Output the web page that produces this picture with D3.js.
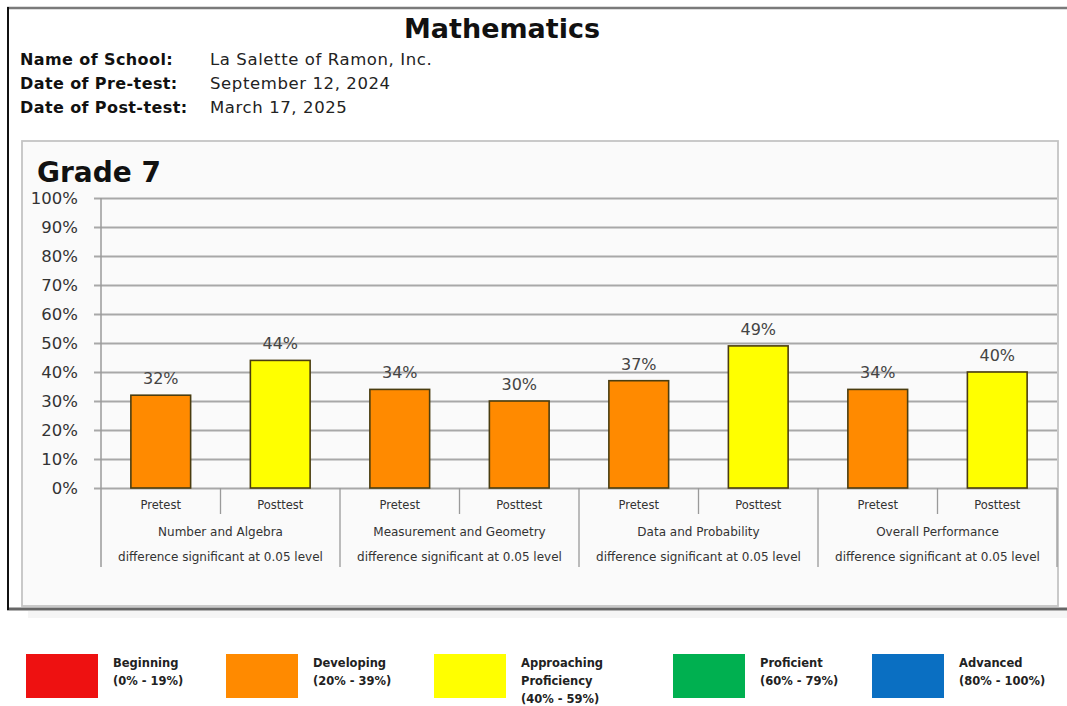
<!DOCTYPE html>
<html>
<head>
<meta charset="utf-8">
<script src="https://cdn.jsdelivr.net/npm/d3@7"></script>
<style>
  html, body { margin: 0; padding: 0; background: #ffffff; }
  svg { display: block; }
</style>
</head>
<body>
<svg id="chart" width="1067" height="706"></svg>
<script>
// ---- data ----
const subject = "Mathematics";
const headerLabels = ["Name of School:", "Date of Pre-test:", "Date of Post-test:"];
const headerValues = ["La Salette of Ramon, Inc.", "September 12, 2024", "March 17, 2025"];
const gradeTitle = "Grade 7";
const categories = ["Number and Algebra", "Measurement and Geometry", "Data and Probability", "Overall Performance"];
const tests = ["Pretest", "Posttest"];
const pretest = [32, 34, 37, 34];
const posttest = [44, 30, 49, 40];
const significance = [
  "difference significant at 0.05 level",
  "difference significant at 0.05 level",
  "difference significant at 0.05 level",
  "difference significant at 0.05 level"
];
const yTicks = [0, 10, 20, 30, 40, 50, 60, 70, 80, 90, 100];
const levelNames = [["Beginning"], ["Developing"], ["Approaching", "Proficiency"], ["Proficient"], ["Advanced"]];
const levelRanges = ["(0% - 19%)", "(20% - 39%)", "(40% - 59%)", "(60% - 79%)", "(80% - 100%)"];
const levelBreaks = [20, 40, 60, 80];
const levelColors = ["#ee1111", "#ff8a00", "#ffff00", "#00b050", "#0a6fc2"];

// ---- layout ----
const svg = d3.select("#chart");
const plot = { left: 101, right: 1057, top: 198, bottom: 488 };
const legendX = [26, 226, 434, 673, 872];
const font = "'DejaVu Sans', Verdana, sans-serif";

// outer frame
svg.append("line").attr("x1", 7).attr("x2", 1067).attr("y1", 8).attr("y2", 8)
  .attr("stroke", "#7a7a7a").attr("stroke-width", 2.5);
svg.append("rect").attr("x", 28).attr("y", 611).attr("width", 1039).attr("height", 7)
  .attr("fill", "#f5f5f5");
svg.append("line").attr("x1", 7).attr("x2", 1067).attr("y1", 609).attr("y2", 609)
  .attr("stroke", "#666").attr("stroke-width", 3);
svg.append("line").attr("x1", 8).attr("x2", 8).attr("y1", 7).attr("y2", 610)
  .attr("stroke", "#111").attr("stroke-width", 2);

// header
svg.append("text").attr("x", 502).attr("y", 38).attr("text-anchor", "middle")
  .attr("font-family", font).attr("font-weight", "bold").attr("font-size", 27)
  .attr("fill", "#111").text(subject);

const hdr = svg.append("g");
headerLabels.forEach((lab, i) => {
  const yy = 65 + i * 24;
  hdr.append("text").attr("x", 20).attr("y", yy)
    .attr("font-family", font).attr("font-weight", "bold").attr("font-size", 16)
    .attr("letter-spacing", 0.4)
    .attr("fill", "#111").text(lab);
  hdr.append("text").attr("x", 210).attr("y", yy)
    .attr("font-family", font).attr("font-size", 16.5)
    .attr("letter-spacing", 0.6)
    .attr("fill", "#222").text(headerValues[i]);
});

// chart box
svg.append("rect").attr("x", 22).attr("y", 141).attr("width", 1036).attr("height", 465)
  .attr("fill", "#fafafa").attr("stroke", "#c4c4c4").attr("stroke-width", 1.8);

svg.append("text").attr("x", 37).attr("y", 182)
  .attr("font-family", font).attr("font-weight", "bold").attr("font-size", 28)
  .attr("fill", "#111").text(gradeTitle);

// scales
const x0 = d3.scaleBand().domain(categories).range([plot.left, plot.right]);
const x1 = d3.scaleBand().domain(tests).range([0, x0.bandwidth()])
  .paddingInner(0.5).paddingOuter(0.25);
const y = d3.scaleLinear().domain([0, 100]).range([plot.bottom, plot.top]);
const levelColor = d3.scaleThreshold().domain(levelBreaks).range(levelColors);

// gridlines with percent labels
const yAxis = d3.axisLeft(y).tickValues(yTicks)
  .tickSize(plot.right - 94).tickPadding(16)
  .tickFormat(d => d + "%");
const gy = svg.append("g").attr("transform", `translate(${plot.right},0)`).call(yAxis);
gy.select(".domain").remove();
gy.selectAll(".tick line").attr("stroke", "#a8a8a8").attr("stroke-width", 1.8);
gy.selectAll(".tick text").attr("font-family", font).attr("font-size", 16.5).attr("fill", "#333");

// vertical axis line and group separators
svg.append("line").attr("x1", plot.left).attr("x2", plot.left)
  .attr("y1", plot.top).attr("y2", 567).attr("stroke", "#9a9a9a").attr("stroke-width", 1.5);
const sep = svg.append("g").attr("stroke", "#9a9a9a").attr("stroke-width", 1.3);
categories.forEach(c => {
  sep.append("line").attr("x1", x0(c) + x0.bandwidth()).attr("x2", x0(c) + x0.bandwidth())
    .attr("y1", plot.bottom).attr("y2", 567);
  sep.append("line").attr("x1", x0(c) + x0.bandwidth() / 2).attr("x2", x0(c) + x0.bandwidth() / 2)
    .attr("y1", plot.bottom).attr("y2", 514);
});

// bars
const rows = categories.flatMap((c, i) => [
  { cat: c, test: tests[0], value: pretest[i] },
  { cat: c, test: tests[1], value: posttest[i] }
]);
const bars = svg.append("g");
bars.selectAll("rect").data(rows).join("rect")
  .attr("x", d => x0(d.cat) + x1(d.test))
  .attr("y", d => y(d.value))
  .attr("width", x1.bandwidth())
  .attr("height", d => y(0) - y(d.value))
  .attr("fill", d => levelColor(d.value))
  .attr("stroke", "#4a3d10").attr("stroke-width", 1.6);

bars.selectAll("text").data(rows).join("text")
  .attr("x", d => x0(d.cat) + x1(d.test) + x1.bandwidth() / 2)
  .attr("y", d => y(d.value) - 11)
  .attr("text-anchor", "middle")
  .attr("font-family", font).attr("font-size", 16).attr("fill", "#444")
  .text(d => d.value + "%");

// category labels
const lab = svg.append("g").attr("font-family", font).attr("fill", "#333").attr("text-anchor", "middle");
rows.forEach(d => {
  lab.append("text").attr("x", x0(d.cat) + x1(d.test) + x1.bandwidth() / 2).attr("y", 509)
    .attr("font-size", 11.5).text(d.test);
});
categories.forEach((c, i) => {
  lab.append("text").attr("x", x0(c) + x0.bandwidth() / 2).attr("y", 536)
    .attr("font-size", 12).text(c);
  lab.append("text").attr("x", x0(c) + x0.bandwidth() / 2).attr("y", 561)
    .attr("font-size", 12).text(significance[i]);
});

// legend
const legend = svg.append("g");
levelNames.forEach((names, i) => {
  const g = legend.append("g").attr("transform", `translate(${legendX[i]},654)`);
  g.append("rect").attr("width", 72).attr("height", 44).attr("fill", levelColors[i]);
  names.concat([levelRanges[i]]).forEach((t, j) => {
    g.append("text").attr("x", 87).attr("y", 13 + j * 18)
      .attr("font-family", font).attr("font-weight", "bold").attr("font-size", 11.5)
      .attr("fill", "#222").text(t);
  });
});
</script>
</body>
</html>
